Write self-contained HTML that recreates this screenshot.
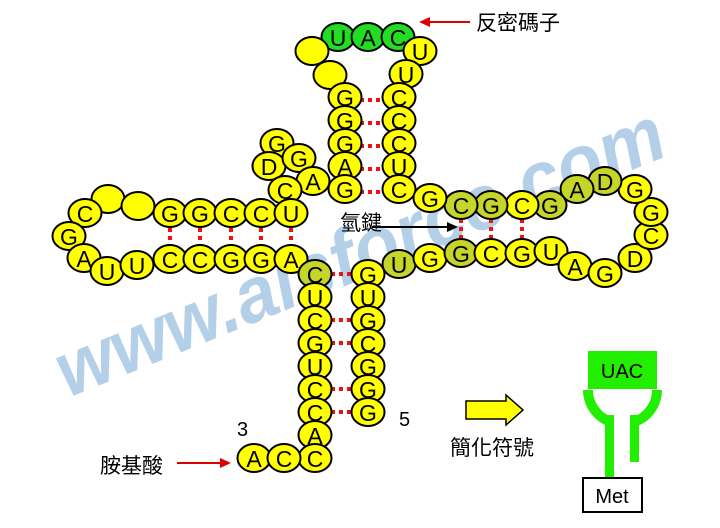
<!DOCTYPE html>
<html><head><meta charset="utf-8"><style>
html,body{margin:0;padding:0;background:#fff;}
svg{display:block;}
.n ellipse{fill:#ffff00;stroke:#000;stroke-width:2;}
.n .g{fill:#c5d52a;}
.n .gg{fill:#22dd22;}
.n text{font-family:"Liberation Sans",sans-serif;font-size:23px;text-anchor:middle;dominant-baseline:central;fill:#000;}
.d{stroke:#ee1111;stroke-width:4;stroke-dasharray:4,4;}
.cj{font-family:"Liberation Sans","Noto Sans CJK TC",sans-serif;font-size:21px;fill:#000;}
</style></head><body>
<svg width="720" height="528" viewBox="0 0 720 528" xmlns="http://www.w3.org/2000/svg">
<text x="0" y="0" transform="translate(68,398) rotate(-22)" font-family="Liberation Sans,sans-serif" font-size="78" font-style="italic" font-weight="bold" fill="#a8c8e6" opacity="0.85" textLength="650" lengthAdjust="spacingAndGlyphs">www.aisforce.com</text>

<!-- dots -->
<g class="d">
<line x1="360" y1="100" x2="384" y2="100"/><line x1="360" y1="123" x2="384" y2="123"/><line x1="360" y1="146" x2="384" y2="146"/><line x1="360" y1="169" x2="384" y2="169"/><line x1="360" y1="192" x2="384" y2="192"/>
<line x1="170" y1="228" x2="170" y2="246"/><line x1="200" y1="228" x2="200" y2="246"/><line x1="231" y1="228" x2="231" y2="246"/><line x1="261" y1="228" x2="261" y2="246"/><line x1="291" y1="228" x2="291" y2="246"/>
<line x1="461" y1="219" x2="461" y2="240"/><line x1="491" y1="219" x2="491" y2="240"/><line x1="522" y1="219" x2="522" y2="240"/>
<line x1="331" y1="274" x2="353" y2="274"/><line x1="331" y1="320" x2="353" y2="320"/><line x1="331" y1="343" x2="353" y2="343"/><line x1="331" y1="389" x2="353" y2="389"/><line x1="331" y1="412" x2="353" y2="412"/>
</g>

<g class="n">
<ellipse class="gg" cx="338" cy="37" rx="16.5" ry="14"/><text x="338" y="38">U</text>
<ellipse class="gg" cx="368" cy="37" rx="16.5" ry="14"/><text x="368" y="38">A</text>
<ellipse class="gg" cx="398" cy="37" rx="16.5" ry="14"/><text x="398" y="38">C</text>
<ellipse cx="312" cy="51" rx="16.5" ry="14"/>
<ellipse cx="330" cy="75" rx="16.5" ry="14"/>
<ellipse cx="420" cy="51" rx="16.5" ry="14"/><text x="420" y="52">U</text>
<ellipse cx="406" cy="74" rx="16.5" ry="14"/><text x="406" y="75">U</text>
<ellipse cx="345" cy="97" rx="16.5" ry="14"/><text x="345" y="98">G</text>
<ellipse cx="345" cy="120" rx="16.5" ry="14"/><text x="345" y="121">G</text>
<ellipse cx="345" cy="143" rx="16.5" ry="14"/><text x="345" y="144">G</text>
<ellipse cx="345" cy="166" rx="16.5" ry="14"/><text x="345" y="167">A</text>
<ellipse cx="345" cy="189" rx="16.5" ry="14"/><text x="345" y="190">G</text>
<ellipse cx="399" cy="97" rx="16.5" ry="14"/><text x="399" y="98">C</text>
<ellipse cx="399" cy="120" rx="16.5" ry="14"/><text x="399" y="121">C</text>
<ellipse cx="399" cy="143" rx="16.5" ry="14"/><text x="399" y="144">C</text>
<ellipse cx="399" cy="166" rx="16.5" ry="14"/><text x="399" y="167">U</text>
<ellipse cx="399" cy="189" rx="16.5" ry="14"/><text x="399" y="190">C</text>
<ellipse cx="277" cy="143" rx="16.5" ry="14"/><text x="277" y="144">G</text>
<ellipse cx="269" cy="166" rx="16.5" ry="14"/><text x="269" y="167">D</text>
<ellipse cx="299" cy="158" rx="16.5" ry="14"/><text x="299" y="159">G</text>
<ellipse cx="313" cy="181" rx="16.5" ry="14"/><text x="313" y="182">A</text>
<ellipse cx="285" cy="190" rx="16.5" ry="14"/><text x="285" y="191">C</text>
<ellipse cx="170" cy="213" rx="16.5" ry="14"/><text x="170" y="214">G</text>
<ellipse cx="200" cy="213" rx="16.5" ry="14"/><text x="200" y="214">G</text>
<ellipse cx="231" cy="213" rx="16.5" ry="14"/><text x="231" y="214">C</text>
<ellipse cx="261" cy="213" rx="16.5" ry="14"/><text x="261" y="214">C</text>
<ellipse cx="291" cy="213" rx="16.5" ry="14"/><text x="291" y="214">U</text>
<ellipse cx="108" cy="199" rx="16.5" ry="14"/>
<ellipse cx="138" cy="206" rx="16.5" ry="14"/>
<ellipse cx="85" cy="213" rx="16.5" ry="14"/><text x="85" y="214">C</text>
<ellipse cx="69" cy="236" rx="16.5" ry="14"/><text x="69" y="237">G</text>
<ellipse cx="84" cy="258" rx="16.5" ry="14"/><text x="84" y="259">A</text>
<ellipse cx="107" cy="271" rx="16.5" ry="14"/><text x="107" y="272">U</text>
<ellipse cx="137" cy="265" rx="16.5" ry="14"/><text x="137" y="266">U</text>
<ellipse cx="170" cy="259" rx="16.5" ry="14"/><text x="170" y="260">C</text>
<ellipse cx="200" cy="259" rx="16.5" ry="14"/><text x="200" y="260">C</text>
<ellipse cx="231" cy="259" rx="16.5" ry="14"/><text x="231" y="260">G</text>
<ellipse cx="261" cy="259" rx="16.5" ry="14"/><text x="261" y="260">G</text>
<ellipse cx="291" cy="259" rx="16.5" ry="14"/><text x="291" y="260">A</text>
<ellipse class="g" cx="315" cy="274" rx="16.5" ry="14"/><text x="315" y="275">C</text>
<ellipse cx="315" cy="297" rx="16.5" ry="14"/><text x="315" y="298">U</text>
<ellipse cx="315" cy="320" rx="16.5" ry="14"/><text x="315" y="321">C</text>
<ellipse cx="315" cy="343" rx="16.5" ry="14"/><text x="315" y="344">G</text>
<ellipse cx="315" cy="366" rx="16.5" ry="14"/><text x="315" y="367">U</text>
<ellipse cx="315" cy="389" rx="16.5" ry="14"/><text x="315" y="390">C</text>
<ellipse cx="315" cy="412" rx="16.5" ry="14"/><text x="315" y="413">C</text>
<ellipse cx="315" cy="435" rx="16.5" ry="14"/><text x="315" y="436">A</text>
<ellipse cx="315" cy="458" rx="16.5" ry="14"/><text x="315" y="459">C</text>
<ellipse cx="254" cy="458" rx="16.5" ry="14"/><text x="254" y="459">A</text>
<ellipse cx="284" cy="458" rx="16.5" ry="14"/><text x="284" y="459">C</text>
<ellipse cx="368" cy="274" rx="16.5" ry="14"/><text x="368" y="275">G</text>
<ellipse cx="368" cy="297" rx="16.5" ry="14"/><text x="368" y="298">U</text>
<ellipse cx="368" cy="320" rx="16.5" ry="14"/><text x="368" y="321">G</text>
<ellipse cx="368" cy="343" rx="16.5" ry="14"/><text x="368" y="344">C</text>
<ellipse cx="368" cy="366" rx="16.5" ry="14"/><text x="368" y="367">G</text>
<ellipse cx="368" cy="389" rx="16.5" ry="14"/><text x="368" y="390">G</text>
<ellipse cx="368" cy="412" rx="16.5" ry="14"/><text x="368" y="413">G</text>
<ellipse class="g" cx="399" cy="264" rx="16.5" ry="14"/><text x="399" y="265">U</text>
<ellipse cx="430" cy="258" rx="16.5" ry="14"/><text x="430" y="259">G</text>
<ellipse class="g" cx="461" cy="253" rx="16.5" ry="14"/><text x="461" y="254">G</text>
<ellipse cx="491" cy="253" rx="16.5" ry="14"/><text x="491" y="254">C</text>
<ellipse cx="522" cy="253" rx="16.5" ry="14"/><text x="522" y="254">G</text>
<ellipse cx="551" cy="251" rx="16.5" ry="14"/><text x="551" y="252">U</text>
<ellipse cx="575" cy="266" rx="16.5" ry="14"/><text x="575" y="267">A</text>
<ellipse cx="605" cy="273" rx="16.5" ry="14"/><text x="605" y="274">G</text>
<ellipse cx="635" cy="258" rx="16.5" ry="14"/><text x="635" y="259">D</text>
<ellipse cx="651" cy="235" rx="16.5" ry="14"/><text x="651" y="236">C</text>
<ellipse cx="651" cy="212" rx="16.5" ry="14"/><text x="651" y="213">G</text>
<ellipse cx="635" cy="189" rx="16.5" ry="14"/><text x="635" y="190">G</text>
<ellipse class="g" cx="605" cy="181" rx="16.5" ry="14"/><text x="605" y="182">D</text>
<ellipse class="g" cx="577" cy="189" rx="16.5" ry="14"/><text x="577" y="190">A</text>
<ellipse class="g" cx="550" cy="205" rx="16.5" ry="14"/><text x="550" y="206">G</text>
<ellipse cx="522" cy="205" rx="16.5" ry="14"/><text x="522" y="206">C</text>
<ellipse class="g" cx="491" cy="205" rx="16.5" ry="14"/><text x="491" y="206">G</text>
<ellipse class="g" cx="461" cy="205" rx="16.5" ry="14"/><text x="461" y="206">C</text>
<ellipse cx="430" cy="198" rx="16.5" ry="14"/><text x="430" y="199">G</text>
</g>

<line x1="470" y1="22" x2="428" y2="22" stroke="#dd0000" stroke-width="2"/>
<polygon points="419,22 430,17 430,27" fill="#dd0000"/>
<text class="cj" x="476" y="30">反密碼子</text>
<text class="cj" x="340" y="230">氫鍵</text>
<line x1="372" y1="227" x2="450" y2="227" stroke="#000" stroke-width="2"/>
<polygon points="458,227 447,222 447,232" fill="#000"/>
<text class="cj" x="100" y="473">胺基酸</text>
<line x1="177" y1="463" x2="222" y2="463" stroke="#dd0000" stroke-width="2"/>
<polygon points="231,463 220,458 220,468" fill="#dd0000"/>
<text x="237" y="436" font-family="Liberation Sans,sans-serif" font-size="20">3</text>
<text x="399" y="426" font-family="Liberation Sans,sans-serif" font-size="20">5</text>
<polygon points="466,401 506,401 506,395 523,410 506,425 506,419 466,419" fill="#ffff00" stroke="#000" stroke-width="1.5"/>
<text class="cj" x="450" y="455">簡化符號</text>

<path d="M588,390 A34.5,34 0 0 0 657,390" fill="none" stroke="#22ee00" stroke-width="10"/>
<rect x="588" y="351" width="69" height="38" fill="#22ee00"/>
<rect x="614" y="400" width="16" height="30" fill="#fff"/>
<rect x="605" y="415" width="9" height="64" fill="#22ee00"/>
<rect x="630" y="415" width="9" height="47" fill="#22ee00"/>
<text x="622" y="378" font-family="Liberation Sans,sans-serif" font-size="20" text-anchor="middle">UAC</text>
<rect x="583" y="478" width="59" height="34" fill="#fff" stroke="#000" stroke-width="2"/>
<text x="612" y="503" font-family="Liberation Sans,sans-serif" font-size="20" text-anchor="middle">Met</text>
</svg>
</body></html>
